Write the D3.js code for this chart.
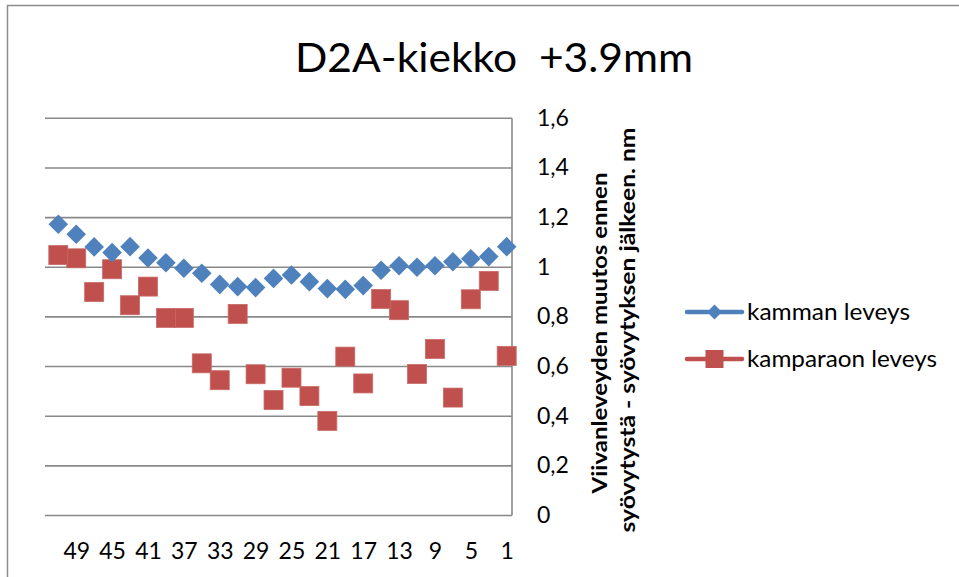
<!DOCTYPE html>
<html>
<head>
<meta charset="utf-8">
<script src="https://cdn.jsdelivr.net/npm/d3@7/dist/d3.min.js"></script>
<style>
  html, body { margin: 0; padding: 0; background: #fff; }
  svg { display: block; }
  text { font-family: Lato, "Noto Sans", sans-serif; fill: #000; }
</style>
</head>
<body>
<script>
// Measurement points (odd positions 1..51) and the two width-change series
const categories = [1, 3, 5, 7, 9, 11, 13, 15, 17, 19, 21, 23, 25, 27, 29, 31, 33, 35, 37, 39, 41, 43, 45, 47, 49, 51];
const kammanLeveys = [1.083, 1.043, 1.034, 1.022, 1.006, 1.000, 1.006, 0.988, 0.926, 0.911, 0.914, 0.942, 0.969,
                      0.955, 0.918, 0.922, 0.931, 0.976, 0.996, 1.018, 1.037, 1.083, 1.059, 1.082, 1.133, 1.173];
const kamparaonLeveys = [0.643, 0.945, 0.871, 0.475, 0.671, 0.570, 0.827, 0.872, 0.532, 0.640, 0.381, 0.481, 0.555,
                         0.465, 0.569, 0.812, 0.545, 0.613, 0.796, 0.796, 0.922, 0.847, 0.992, 0.900, 1.036, 1.049];
const yTicks = [0, 0.2, 0.4, 0.6, 0.8, 1.0, 1.2, 1.4, 1.6];
const xTickLabels = [1, 5, 9, 13, 17, 21, 25, 29, 33, 37, 41, 45, 49];
const seriesNames = ["kamman leveys", "kamparaon leveys"];
const titleText = "D2A-kiekko\u00a0\u00a0+3.9mm";
const axisTitle = ["Viivanleveyden muutos ennen", "syövytystä - syövytyksen jälkeen. nm"];

const W = 959, H = 577;
const blue = "#4F81BD", red = "#C0504D", grid = "#898989";
// whole numbers without decimals, others with a decimal comma
const fmt = v => Number.isInteger(v) ? String(v) : d3.format(".1f")(v).replace(".", ",");

const svg = d3.select("body").append("svg").attr("width", W).attr("height", H);

// chart frame
svg.append("rect").attr("x", 7.5).attr("y", 5.5).attr("width", 1000).attr("height", 1000)
  .attr("fill", "none").attr("stroke", "#8c8c8c").attr("stroke-width", 1.5);

// Plot area: categories run right-to-left, value axis on the right
const plot = { left: 45, right: 512, top: 118.3, bottom: 515.5 };
const x = d3.scalePoint().domain(categories.slice().reverse()).range([58.3, 506.7]);
const y = d3.scaleLinear().domain([0, 1.6]).range([plot.bottom, plot.top]);

// gridlines
svg.append("g").selectAll("line").data(yTicks).join("line")
  .attr("x1", plot.left).attr("x2", plot.right)
  .attr("y1", d => y(d)).attr("y2", d => y(d))
  .attr("stroke", grid).attr("stroke-width", 1.6);

// value axis line (right side)
svg.append("line").attr("x1", plot.right).attr("x2", plot.right)
  .attr("y1", plot.top).attr("y2", plot.bottom)
  .attr("stroke", grid).attr("stroke-width", 1.6);

// value axis labels
const yAxis = d3.axisRight(y).tickValues(yTicks).tickFormat(fmt).tickSize(0).tickPadding(0);
const gy = svg.append("g").attr("transform", `translate(537,0)`).call(yAxis);
gy.select(".domain").remove();
gy.selectAll("text").attr("font-size", 23).attr("font-family", "Lato, sans-serif")
  .attr("dy", "0.3em").attr("x", 0).style("text-anchor", "start").attr("fill", "#000");

// category axis labels
const xAxis = d3.axisBottom(x).tickValues(xTickLabels).tickSize(0).tickPadding(0);
const gx = svg.append("g").attr("transform", `translate(0,558.5)`).call(xAxis);
gx.select(".domain").remove();
gx.selectAll("text").attr("font-size", 23).attr("font-family", "Lato, sans-serif")
  .attr("dy", 0).attr("y", 0).attr("fill", "#000");

// title
svg.append("text").attr("x", 494).attr("y", 72).attr("text-anchor", "middle")
  .attr("font-size", 41).attr("textLength", 398).attr("lengthAdjust", "spacingAndGlyphs")
  .text(titleText);

// vertical axis title (two lines, bold)
const at = svg.append("g").attr("transform", "translate(607,333) rotate(-90)");
at.append("text").attr("x", 0).attr("y", 0).attr("text-anchor", "middle")
  .attr("font-size", 21).attr("font-weight", "bold")
  .attr("textLength", 321).attr("lengthAdjust", "spacingAndGlyphs").text(axisTitle[0]);
at.append("text").attr("x", 3).attr("y", 28).attr("text-anchor", "middle")
  .attr("font-size", 21).attr("font-weight", "bold")
  .attr("textLength", 405).attr("lengthAdjust", "spacingAndGlyphs").text(axisTitle[1]);

// markers
const diamond = r => `M0,${-r}L${r},0L0,${r}L${-r},0Z`;
svg.append("g").selectAll("rect").data(categories.map((c, i) => [c, kamparaonLeveys[i]])).join("rect")
  .attr("x", d => x(d[0]) - 9.5).attr("y", d => y(d[1]) - 9.5)
  .attr("width", 19).attr("height", 19).attr("fill", red)
  .attr("stroke", "#c96a67").attr("stroke-width", 0.8);
svg.append("g").selectAll("path").data(categories.map((c, i) => [c, kammanLeveys[i]])).join("path")
  .attr("transform", d => `translate(${x(d[0])},${y(d[1])})`)
  .attr("d", diamond(9.8)).attr("fill", blue);

// legend
const legendY = [312, 359];
const lg = svg.append("g");
[0, 1].forEach(i => {
  const col = i === 0 ? blue : red;
  lg.append("line").attr("x1", 687).attr("x2", 742).attr("y1", legendY[i]).attr("y2", legendY[i])
    .attr("stroke", col).attr("stroke-width", 4.5).attr("stroke-linecap", "round");
  if (i === 0) {
    lg.append("path").attr("transform", `translate(714.5,${legendY[i]})`).attr("d", diamond(7.5)).attr("fill", col);
  } else {
    lg.append("rect").attr("x", 714.5 - 9).attr("y", legendY[i] - 9).attr("width", 18).attr("height", 18).attr("fill", col);
  }
  lg.append("text").attr("x", 747).attr("y", legendY[i] + 8).attr("font-size", 23)
    .attr("textLength", i === 0 ? 163 : 190).attr("lengthAdjust", "spacingAndGlyphs")
    .text(seriesNames[i]);
});
</script>
</body>
</html>
